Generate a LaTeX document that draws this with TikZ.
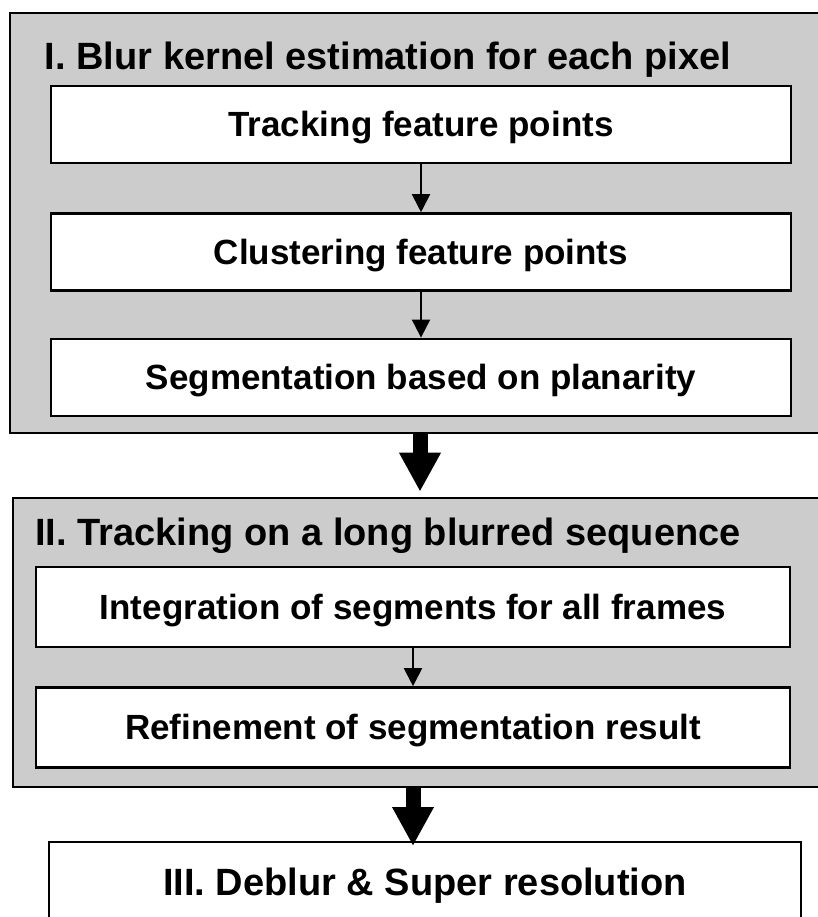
\documentclass[tikz,border=0pt]{standalone}
\usepackage{fontspec}
\setmainfont{Liberation Sans}
\usetikzlibrary{arrows.meta,positioning}
\definecolor{stagegray}{RGB}{204,204,204}

\begin{document}
\begin{tikzpicture}[x=1pt, y=1pt,
    node distance=48pt,
    stage/.style={rectangle, draw=black, fill=stagegray, line width=2.6pt, inner sep=0pt},
    title/.style={font=\fontsize{38}{40}\selectfont\bfseries, inner sep=0pt},
    task/.style={rectangle, draw=black, fill=white, line width=2.4pt, minimum width=740pt, minimum height=77pt, inner sep=0pt, text height=31pt, text depth=6pt, font=\fontsize{35}{37}\selectfont\bfseries},
    arrow/.style={-{Triangle[length=18pt,width=18pt]}, line width=2pt},
    bigarrow/.style={-{Triangle[length=39pt,width=39pt]}, line width=15pt}]
  \useasboundingbox (0,0) rectangle (817,-917);
  % stage I
  \node[stage, minimum width=820pt, minimum height=420pt] (blur) at (420,-223) {};
  \node[title, anchor=base] (blurtitle) at (388,-70) {I. Blur kernel estimation for each pixel};
  \node[task] (track) at (421,-124.5) {Tracking feature points};
  \node[task, below=of track] (cluster) {Clustering feature points};
  \node[task, below=46pt of cluster] (segm) {Segmentation based on planarity};
  \draw[arrow] (track) -- (cluster);
  \draw[arrow] (cluster) -- (segm);
  % stage II
  \node[stage, minimum width=817pt, minimum height=289pt] (longtrack) at (421.5,-642.5) {};
  \node[title, anchor=base] (longtitle) at (388,-545) {II. Tracking on a long blurred sequence};
  \node[task, minimum width=754pt, minimum height=80pt] (integ) at (413,-607) {Integration of segments for all frames};
  \node[task, minimum width=754pt, minimum height=80pt, below=38pt of integ] (refine) {Refinement of segmentation result};
  \draw[arrow] (integ) -- (refine);
  % stage III
  \node[task, anchor=north, minimum width=752pt, minimum height=80pt, text height=33pt, text depth=5.8pt, font=\fontsize{38}{40}\selectfont\bfseries] (deblur) at (425,-841) {III. Deblur \& Super resolution};
  \draw[bigarrow, shorten >=5pt] (blur.south) -- (blur.south |- longtrack.north);
  \draw[bigarrow, shorten >=-5pt] (refine.south |- longtrack.south) -- (refine.south |- deblur.north);
\end{tikzpicture}
\end{document}
